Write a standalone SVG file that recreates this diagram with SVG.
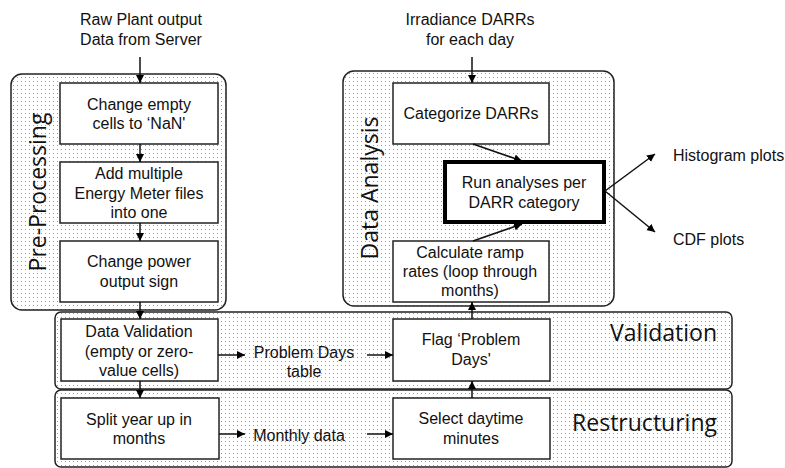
<svg xmlns="http://www.w3.org/2000/svg" width="785" height="468" viewBox="0 0 785 468">
<defs>
<pattern id="dots" x="0" y="0" width="4" height="4" patternUnits="userSpaceOnUse">
<rect width="4" height="4" fill="#fff"/>
<rect x="1" y="1" width="1" height="1" fill="#9a9a9a"/>
</pattern>
<marker id="ah" viewBox="0 0 10 10" refX="10" refY="5" markerWidth="8" markerHeight="8" markerUnits="userSpaceOnUse" orient="auto">
<path d="M0,0 L10,5 L0,10 Z" fill="#000"/>
</marker>
<style>
.cont{fill:url(#dots);stroke:#222;stroke-width:1.5}
.box{fill:#fff;stroke:#222;stroke-width:1.5}
.thick{fill:#fff;stroke:#000;stroke-width:4}
.t{font-family:"Liberation Sans",Arial,sans-serif;font-size:16px;fill:#111;text-anchor:middle}
.tl{font-family:"Liberation Sans",Arial,sans-serif;font-size:16px;fill:#111}
.big{font-family:"Open Sans","Noto Sans",sans-serif;font-size:23px;fill:#111}
.c{stroke:#111;stroke-width:1.5;fill:none;marker-end:url(#ah)}
</style>
</defs>
<rect width="785" height="468" fill="#fff"/>

<g id="pre-processing">
<rect class="cont" x="11" y="74" width="215" height="236" rx="11"/>
<text class="big" transform="translate(46,192) rotate(-90)" text-anchor="middle">Pre-Processing</text>
</g>
<g id="data-analysis">
<rect class="cont" x="343" y="71" width="271" height="235" rx="11"/>
<text class="big" transform="translate(378,188) rotate(-90)" text-anchor="middle">Data Analysis</text>
</g>
<g id="validation">
<rect class="cont" x="55" y="312" width="677" height="77" rx="6"/>
<text class="big" x="717" y="341" text-anchor="end">Validation</text>
</g>
<g id="restructuring">
<rect class="cont" x="55" y="390" width="677" height="77" rx="6"/>
<text class="big" x="717" y="431" text-anchor="end">Restructuring</text>
</g>

<g id="raw-input">
<text class="t" x="141" y="25">Raw Plant output</text>
<text class="t" x="141" y="45">Data from Server</text>
</g>
<g id="irradiance-input">
<text class="t" x="470" y="25">Irradiance DARRs</text>
<text class="t" x="470" y="45">for each day</text>
</g>

<g id="change-empty">
<rect class="box" x="60" y="83" width="158" height="61"/>
<text class="t" x="139" y="110">Change empty</text>
<text class="t" x="139" y="129">cells to ‘NaN'</text>
</g>
<g id="add-multiple">
<rect class="box" x="60" y="162" width="158" height="61"/>
<text class="t" x="139" y="179">Add multiple</text>
<text class="t" x="139" y="199">Energy Meter files</text>
<text class="t" x="139" y="218">into one</text>
</g>
<g id="change-power">
<rect class="box" x="60" y="241" width="158" height="61"/>
<text class="t" x="139" y="267">Change power</text>
<text class="t" x="139" y="287">output sign</text>
</g>

<g id="categorize">
<rect class="box" x="393" y="83" width="156" height="61"/>
<text class="t" x="471" y="119">Categorize DARRs</text>
</g>
<g id="run-analyses">
<rect class="thick" x="445" y="162" width="159" height="60"/>
<text class="t" x="524" y="188">Run analyses per</text>
<text class="t" x="524" y="208">DARR category</text>
</g>
<g id="calculate">
<rect class="box" x="393" y="241" width="156" height="61"/>
<text class="t" x="470" y="258">Calculate ramp</text>
<text class="t" x="470" y="277">rates (loop through</text>
<text class="t" x="470" y="296">months)</text>
</g>

<g id="histogram">
<text class="tl" x="673" y="161">Histogram plots</text>
</g>
<g id="cdf">
<text class="tl" x="673" y="245">CDF plots</text>
</g>

<g id="data-validation">
<rect class="box" x="61" y="319" width="157" height="62"/>
<text class="t" x="139" y="337">Data Validation</text>
<text class="t" x="139" y="357">(empty or zero-</text>
<text class="t" x="139" y="376">value cells)</text>
</g>
<g id="problem-days-table">
<text class="t" x="304" y="358">Problem Days</text>
<text class="t" x="304" y="377">table</text>
</g>
<g id="flag-problem-days">
<rect class="box" x="393" y="319" width="157" height="62"/>
<text class="t" x="471" y="345">Flag ‘Problem</text>
<text class="t" x="471" y="365">Days'</text>
</g>

<g id="split-year">
<rect class="box" x="61" y="398" width="158" height="61"/>
<text class="t" x="139" y="425">Split year up in</text>
<text class="t" x="139" y="444">months</text>
</g>
<g id="monthly-data">
<text class="t" x="299" y="441">Monthly data</text>
</g>
<g id="select-daytime">
<rect class="box" x="393" y="398" width="157" height="61"/>
<text class="t" x="471" y="424">Select daytime</text>
<text class="t" x="471" y="444">minutes</text>
</g>

<g id="connectors">
<line class="c" x1="140" y1="57" x2="140" y2="83"/>
<line class="c" x1="140" y1="144" x2="140" y2="162"/>
<line class="c" x1="140" y1="223" x2="140" y2="241"/>
<line class="c" x1="140" y1="302" x2="140" y2="319"/>
<line class="c" x1="140" y1="381" x2="140" y2="398"/>
<line class="c" x1="218" y1="355" x2="245" y2="355"/>
<line class="c" x1="367" y1="355" x2="393" y2="355"/>
<line class="c" x1="219" y1="434" x2="245" y2="434"/>
<line class="c" x1="367" y1="434" x2="393" y2="434"/>
<line class="c" x1="472" y1="398" x2="472" y2="381"/>
<line class="c" x1="472" y1="319" x2="472" y2="302"/>
<line class="c" x1="472" y1="57" x2="472" y2="83"/>
<line class="c" x1="473" y1="144" x2="522" y2="161"/>
<line class="c" x1="473" y1="241" x2="522" y2="224"/>
<line class="c" x1="605" y1="191" x2="655" y2="154"/>
<line class="c" x1="605" y1="191" x2="655" y2="232"/>
</g>
</svg>
